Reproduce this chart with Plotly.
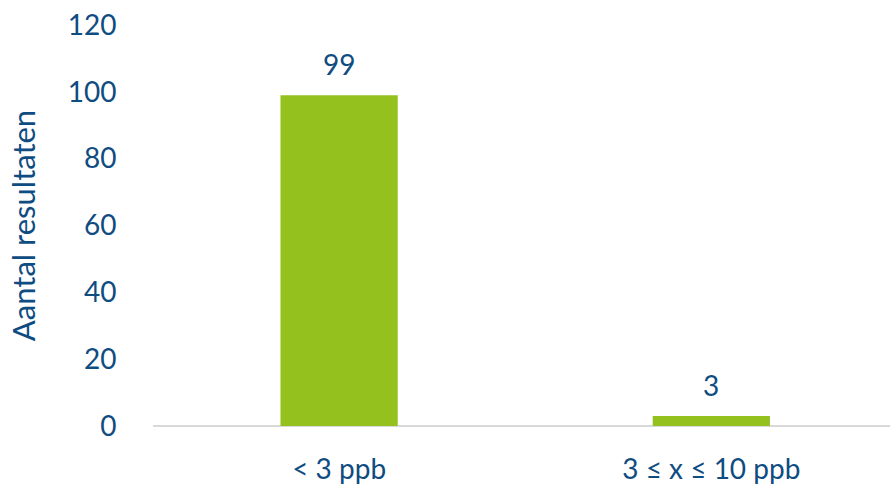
import plotly.graph_objects as go

# Counts of results per concentration class
categories = ["< 3 ppb", "3 ≤ x ≤ 10 ppb"]
counts = [99, 3]
y_ticks = [0, 20, 40, 60, 80, 100, 120]

BAR_GREEN = "#95C11F"
TEXT_BLUE = "#0F4C81"
AXIS_GREY = "#D9D9D9"
FONT = "Lato, 'Open Sans', sans-serif"

fig = go.Figure(
    go.Bar(
        x=[0, 1],
        y=counts,
        width=0.315,
        marker=dict(color=BAR_GREEN, line=dict(width=0)),
        hoverinfo="skip",
    )
)

# Value labels above each bar
for i, v in enumerate(counts):
    fig.add_annotation(
        x=i, y=v, text=str(v), showarrow=False, yshift=31,
        font=dict(family=FONT, size=28, color=TEXT_BLUE),
    )

fig.update_layout(
    width=890,
    height=486,
    margin=dict(l=153, r=0, t=25, b=60),
    paper_bgcolor="white",
    plot_bgcolor="white",
    showlegend=False,
    font=dict(family=FONT, size=28, color=TEXT_BLUE),
)

fig.update_xaxes(
    tickmode="array",
    tickvals=[0, 1],
    ticktext=categories,
    range=[-0.5, 1.48],
    showgrid=False,
    zeroline=False,
    showline=False,
    ticks="outside",
    ticklen=18,
    tickcolor="rgba(0,0,0,0)",
    tickfont=dict(family=FONT, size=28, color=TEXT_BLUE),
    automargin=False,
)

fig.update_yaxes(
    range=[0, 120],
    tickmode="array",
    tickvals=y_ticks,
    showgrid=False,
    zeroline=True,
    zerolinecolor=AXIS_GREY,
    zerolinewidth=2,
    showline=False,
    ticks="outside",
    ticklen=30,
    tickcolor="rgba(0,0,0,0)",
    tickfont=dict(family=FONT, size=28, color=TEXT_BLUE),
    title=dict(text="Aantal resultaten", standoff=22,
               font=dict(family=FONT, size=31, color=TEXT_BLUE)),
    automargin=False,
)

fig.write_html("out.html")
